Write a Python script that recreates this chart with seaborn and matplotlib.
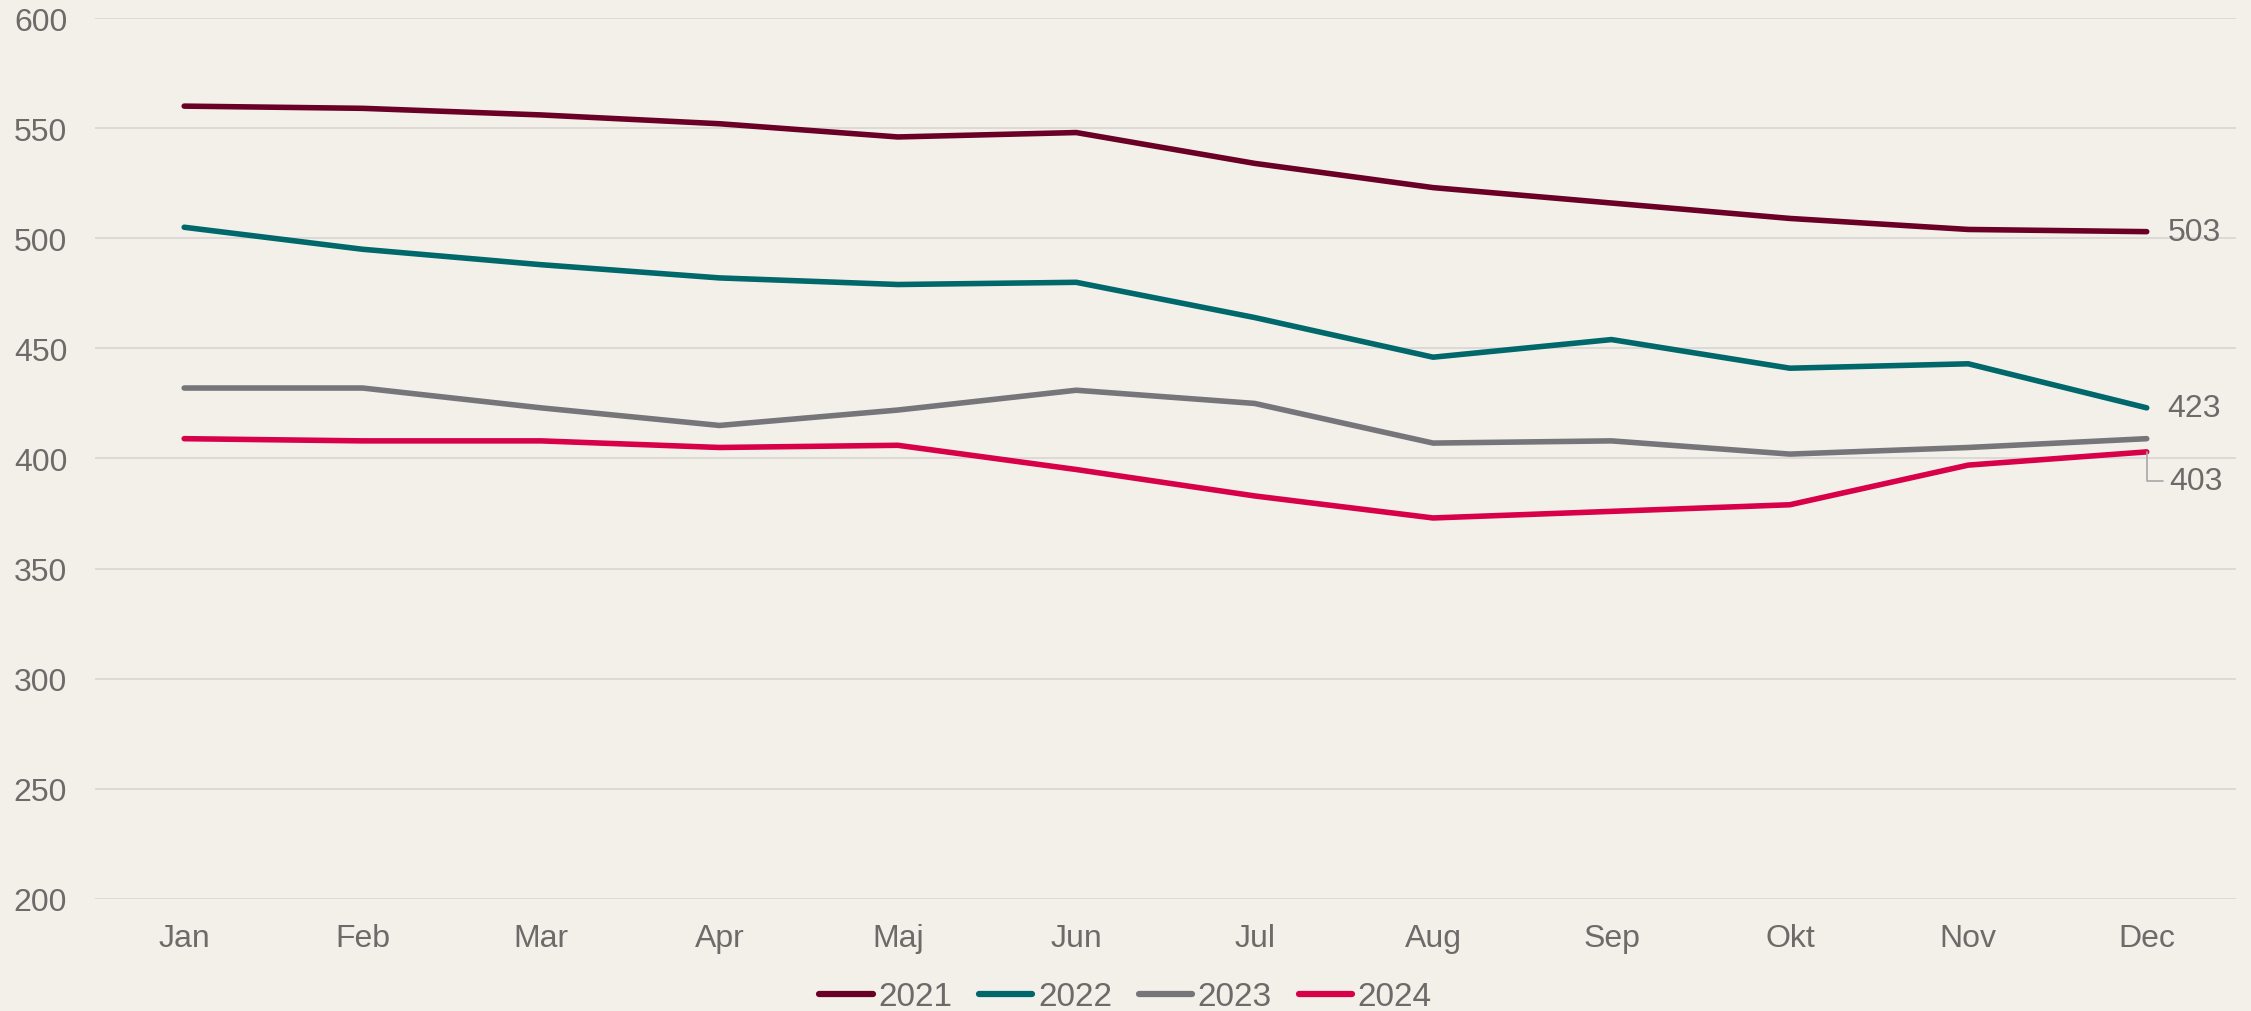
import matplotlib
matplotlib.use("Agg")
import matplotlib.pyplot as plt
import seaborn as sns
import pandas as pd

months = ["Jan", "Feb", "Mar", "Apr", "Maj", "Jun", "Jul", "Aug", "Sep", "Okt", "Nov", "Dec"]
v2021 = [560, 559, 556, 552, 546, 548, 534, 523, 516, 509, 504, 503]
v2022 = [505, 495, 488, 482, 479, 480, 464, 446, 454, 441, 443, 423]
v2023 = [432, 432, 423, 415, 422, 431, 425, 407, 408, 402, 405, 409]
v2024 = [409, 408, 408, 405, 406, 395, 383, 373, 376, 379, 397, 403]
years = ["2021", "2022", "2023", "2024"]
colors = ["#6b0026", "#00676a", "#75757a", "#d70049"]

rows = []
for y, vals in zip(years, [v2021, v2022, v2023, v2024]):
    for i, (m, v) in enumerate(zip(months, vals)):
        rows.append({"idx": i, "Month": m, "Value": v, "Year": y})
df = pd.DataFrame(rows)

bg = "#f3f0ea"
txt = "#6e6a6a"
fs = 23
sns.set_theme(style="white")
plt.rcParams["font.family"] = ["Liberation Sans", "DejaVu Sans"]

fig = plt.figure(figsize=(22.51, 10.12), dpi=100, facecolor=bg)
ax = fig.add_axes([0.0422, 0.1107, 0.9511, 0.8705])
ax.set_facecolor(bg)

sns.lineplot(data=df, x="idx", y="Value", hue="Year", palette=dict(zip(years, colors)),
             linewidth=4.0, ax=ax, sort=False, legend=True)
for l in ax.lines:
    l.set_solid_capstyle("round")

ax.set_xlim(-0.5, 11.5)
ax.set_ylim(200, 600)
ax.set_yticks(range(200, 601, 50))
ax.set_xticks(range(12))
ax.set_xticklabels(months)
ax.grid(axis="y", color="#dcd9d7", linewidth=1.4)
ax.set_axisbelow(True)
for s in ax.spines.values():
    s.set_visible(False)
ax.tick_params(axis="both", length=0, labelsize=fs, colors=txt)
ax.tick_params(axis="y", pad=20)
ax.tick_params(axis="x", pad=17)
ax.set_xlabel("")
ax.set_ylabel("")

# end labels
ax.annotate(str(v2021[-1]), xy=(11, v2021[-1]), xytext=(15, 0), textcoords="offset points",
            ha="left", va="center", fontsize=fs, color=txt)
ax.annotate(str(v2022[-1]), xy=(11, v2022[-1]), xytext=(15, 0), textcoords="offset points",
            ha="left", va="center", fontsize=fs, color=txt)
ax.annotate(str(v2024[-1]), xy=(11, v2024[-1]), xytext=(16, -21), textcoords="offset points",
            ha="left", va="center", fontsize=fs, color=txt,
            arrowprops=dict(arrowstyle="-", color="#a9a6a6", lw=1.2,
                            connectionstyle="angle,angleA=0,angleB=90,rad=0",
                            shrinkA=2, shrinkB=0))

handles, labels = ax.get_legend_handles_labels()
ax.legend_.remove()
leg = fig.legend(handles, labels, loc="center", bbox_to_anchor=(0.5, 0.014), ncol=4,
                 frameon=False, fontsize=24, handlelength=1.6, handletextpad=0.17,
                 columnspacing=0.8, labelcolor=txt)
for h in leg.get_lines():
    h.set_linewidth(4.5)
    h.set_solid_capstyle("round")

fig.savefig("out.png", dpi=100, facecolor=bg)
